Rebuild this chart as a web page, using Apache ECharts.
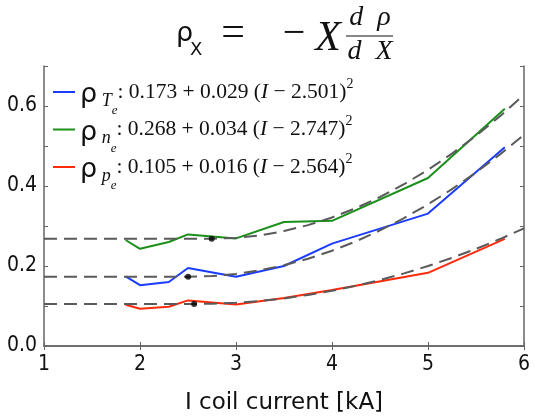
<!DOCTYPE html>
<html><head><meta charset="utf-8">
<script src="https://cdn.jsdelivr.net/npm/echarts@6/dist/echarts.min.js"></script>
<style>html,body{margin:0;padding:0;background:#fff}#c{width:535px;height:416px}</style>
</head><body><div id="c"></div>
<script>
// measured points
const current = [1.85, 2.0, 2.3, 2.5, 3.0, 3.5, 4.0, 5.0, 5.8];
const rhoTe = [0.174, 0.152, 0.160, 0.195, 0.173, 0.200, 0.256, 0.331, 0.497];
const rhoNe = [0.265, 0.243, 0.260, 0.279, 0.269, 0.310, 0.313, 0.420, 0.593];
const rhoPe = [0.103, 0.093, 0.098, 0.114, 0.104, 0.120, 0.140, 0.183, 0.268];
// fitted curves
const fitTeX = [1, 2.501, 2.75, 3, 3.25, 3.5, 3.75, 4, 4.25, 4.5, 4.75, 5, 5.25, 5.5, 5.75, 6];
const fitTeY = [0.173, 0.173, 0.1748, 0.1802, 0.1893, 0.2019, 0.2182, 0.2382, 0.2617, 0.2889, 0.3197, 0.3541, 0.3922, 0.4338, 0.4791, 0.528];
const fitNeX = [1, 2.747, 3, 3.25, 3.5, 3.75, 4, 4.25, 4.5, 4.75, 5, 5.25, 5.5, 5.75, 6];
const fitNeY = [0.268, 0.268, 0.2702, 0.2766, 0.2873, 0.3022, 0.3214, 0.3448, 0.3725, 0.4044, 0.4406, 0.4810, 0.5257, 0.5746, 0.6278];
const fitPeX = [1, 2.564, 2.75, 3, 3.25, 3.5, 3.75, 4, 4.25, 4.5, 4.75, 5, 5.25, 5.5, 5.75, 6];
const fitPeY = [0.105, 0.105, 0.1056, 0.1080, 0.1125, 0.1190, 0.1275, 0.1380, 0.1505, 0.1650, 0.1815, 0.1999, 0.2204, 0.2429, 0.2674, 0.2939];
// fit parameters (legend) and minima
const seriesKeys = ['Te', 'ne', 'pe'];
const subMain = ['T', 'n', 'p'];
const subSub = ['e', 'e', 'e'];
const fitA = ['0.173', '0.268', '0.105'];
const fitB = ['0.029', '0.034', '0.016'];
const fitI0 = ['2.501', '2.747', '2.564'];
const minX = [2.501, 2.747, 2.564];
const minY = [0.173, 0.268, 0.105];
const xTicks = [1, 2, 3, 4, 5, 6];
const yTickLabels = ['0.0', '0.2', '0.4', '0.6'];

const colors = ['#1a3cff', '#1a8f1a', '#ff2a0a'];
const serif = "'Liberation Serif', serif";
const narrow = "'Liberation Sans Narrow', 'DejaVu Sans Condensed', 'Liberation Sans', sans-serif";

function zip(xs, ys) { return xs.map((x, i) => [x, ys[i]]); }

const chart = echarts.init(document.getElementById('c'), null, {renderer: 'canvas'});
const axisLine = {lineStyle: {color: '#666', width: 1.5}};
const tick = {inside: true, length: 4, lineStyle: {color: '#666', width: 1}};

const dataSets = [rhoTe, rhoNe, rhoPe];
const fits = [[fitTeX, fitTeY], [fitNeX, fitNeY], [fitPeX, fitPeY]];
const series = [];
fits.forEach((f, i) => {
  series.push({type: 'line', data: zip(f[0], f[1]), showSymbol: false, silent: true,
    lineStyle: {color: '#5a5a5a', width: 2, type: [13, 7]}, z: 3});
});
dataSets.forEach((d, i) => {
  series.push({name: seriesKeys[i], type: 'line', data: zip(current, d), showSymbol: false,
    color: colors[i], lineStyle: {color: colors[i], width: 2}, z: 2});
});
series.push({type: 'scatter', data: zip(minX, minY), symbolSize: 6, itemStyle: {color: '#000'}, z: 5, silent: true});

const option = {
  animation: false,
  backgroundColor: '#fff',
  grid: {left: 44, right: 11, top: 66, bottom: 70, containLabel: false, outerBoundsMode: 'none'},
  xAxis: [{
    type: 'value', min: 1, max: 6, interval: 1,
    axisLine, axisTick: tick, splitLine: {show: false},
    axisLabel: {fontFamily: narrow, fontSize: 21, color: '#111', margin: 8,
      formatter: v => xTicks.includes(v) ? String(v) : ''},
    name: 'I coil current [kA]', nameLocation: 'middle', nameGap: 46,
    nameTextStyle: {fontFamily: 'DejaVu Sans', fontSize: 23, color: '#111'}
  }, {
    type: 'value', min: 1, max: 6, interval: 1, position: 'top',
    axisLine, axisTick: tick, axisLabel: {show: false}, splitLine: {show: false}
  }],
  yAxis: [{
    type: 'value', min: 0, max: 0.7, interval: 0.1,
    axisLine: {show: true, ...axisLine}, axisTick: {show: true, ...tick}, splitLine: {show: false},
    axisLabel: {fontFamily: narrow, fontSize: 21, color: '#111', margin: 7,
      formatter: v => { const k = Math.round(v * 10); return k % 2 === 0 ? yTickLabels[k / 2] || '' : ''; }}
  }, {
    type: 'value', min: 0, max: 0.7, interval: 0.1, position: 'right',
    axisLine: {show: true, ...axisLine}, axisTick: {show: true, ...tick}, axisLabel: {show: false}, splitLine: {show: false}
  }],
  legend: {
    data: seriesKeys, orient: 'vertical', left: 53, top: 77, padding: 0,
    itemWidth: 22, itemHeight: 2, itemGap: -3, icon: 'rect',
    formatter: name => {
      const i = seriesKeys.indexOf(name);
      return '{r|ρ}{s| ' + subMain[i] + '}{e|' + subSub[i] + '}{t|: ' + fitA[i] + ' + ' + fitB[i] + ' (}{i|I}{t| − ' + fitI0[i] + ')}{sup|2}';
    },
    textStyle: {
      color: '#111',
      rich: {
        r: {fontFamily: 'DejaVu Sans', fontSize: 27, color: '#111', padding: [3, 0, -3, 0]},
        s: {fontFamily: serif, fontStyle: 'italic', fontSize: 18, color: '#111', padding: [9, 0, -9, 0]},
        e: {fontFamily: serif, fontStyle: 'italic', fontSize: 13, color: '#111', padding: [19, 0, -19, 0]},
        t: {fontFamily: serif, fontSize: 21.5, color: '#111'},
        i: {fontFamily: serif, fontStyle: 'italic', fontSize: 21.5, color: '#111'},
        sup: {fontFamily: serif, fontSize: 14, color: '#111', padding: [-8, 0, 8, 0]}
      }
    }
  },
  graphic: [
    {type: 'text', style: {x: 176, y: 34, text: 'ρ', font: "27px 'DejaVu Sans'", fill: '#111', verticalAlign: 'middle'}},
    {type: 'text', style: {x: 190, y: 50, text: 'X', font: "18px 'DejaVu Sans'", fill: '#111', verticalAlign: 'middle'}},
    {type: 'text', style: {x: 233, y: 34, text: '=', font: "42px 'Liberation Serif'", fill: '#111', align: 'center', verticalAlign: 'middle'}},
    {type: 'text', style: {x: 294, y: 34, text: '−', font: "40px 'Liberation Serif'", fill: '#111', align: 'center', verticalAlign: 'middle'}},
    {type: 'text', style: {x: 328, y: 39, text: 'X', font: "italic 42px 'Liberation Serif'", fill: '#111', align: 'center', verticalAlign: 'middle'}},
    {type: 'line', shape: {x1: 346, y1: 36, x2: 393, y2: 36}, style: {stroke: '#111', lineWidth: 1}},
    {type: 'text', style: {x: 370, y: 18, text: 'd  ρ', font: "italic 28px 'Liberation Serif'", fill: '#111', align: 'center', verticalAlign: 'middle'}},
    {type: 'text', style: {x: 370, y: 52, text: 'd  X', font: "italic 28px 'Liberation Serif'", fill: '#111', align: 'center', verticalAlign: 'middle'}}
  ],
  series
};
chart.setOption(option);
</script>
</body></html>
